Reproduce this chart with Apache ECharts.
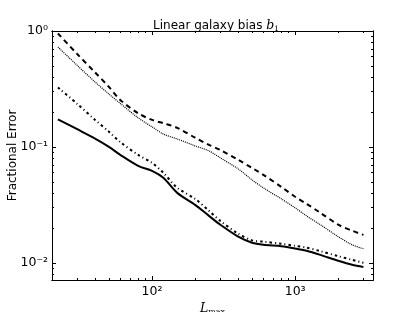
<!DOCTYPE html>
<html><head><meta charset="utf-8">
<script src="https://cdn.jsdelivr.net/npm/echarts@6/dist/echarts.min.js"></script>
<style>html,body{margin:0;padding:0;background:#fff}#c{width:415px;height:312px}</style>
</head><body><div id="c"></div>
<script>
// L_max sample positions
const lmax = [22,30,40,50,60,80,100,120,150,200,250,300,400,500,600,800,1000,1200,1500,2000,2500,3000];
// fractional errors per curve
const dashedErr  = [0.952,0.633,0.439,0.329,0.254,0.195,0.171,0.160,0.146,0.120,0.104,0.0942,0.0773,0.0659,0.0574,0.0452,0.0371,0.0323,0.0270,0.0213,0.0189,0.0174];
const dottedErr  = [0.728,0.505,0.363,0.286,0.237,0.178,0.149,0.129,0.117,0.102,0.0924,0.0804,0.0646,0.0519,0.0443,0.0356,0.0298,0.0254,0.0213,0.0168,0.0143,0.0132];
const dashDotErr = [0.326,0.235,0.171,0.135,0.110,0.0853,0.0728,0.0597,0.0443,0.0356,0.0281,0.0230,0.0178,0.0156,0.0152,0.0146,0.0140,0.0135,0.0126,0.0114,0.0106,0.0100];
const solidErr   = [0.173,0.142,0.118,0.100,0.0853,0.0686,0.0621,0.0541,0.0401,0.0316,0.0254,0.0213,0.0168,0.0149,0.0143,0.0139,0.0133,0.0127,0.0117,0.0104,0.0096,0.0092];
// ticks
const xMajor = [100, 1000];
const xMajorLabels = ['10²', '10³'];
const xMinor = [30,40,50,60,70,80,90,200,300,400,500,600,700,800,900,2000,3000];
const yMajor = [0.01, 0.1, 1];
const yMajorLabels = ['10⁻²', '10⁻¹', '10⁰'];
const yMinor = [0.008,0.009,0.02,0.03,0.04,0.05,0.06,0.07,0.08,0.09,0.2,0.3,0.4,0.5,0.6,0.7,0.8,0.9];

const FONT = 'DejaVu Sans';
const chart = echarts.init(document.getElementById('c'), null, {renderer:'canvas'});
const pairs = arr => lmax.map((x,i)=>[x, arr[i]]);
function mkAxis(kind, pos, ticks, len, labels, labelVals, extra) {
  const ax = {
    type: 'log', logBase: 10, position: pos,
    min: kind === 'x' ? 20 : 0.0071, max: kind === 'x' ? 3500 : 1,
    axisLine: {show: true, lineStyle: {color: '#000', width: 1}},
    axisTick: {show: true, inside: true, length: len, customValues: ticks, lineStyle: {color: '#000', width: 1}},
    axisLabel: labels ? {
      show: true, customValues: labelVals, fontFamily: FONT, fontSize: 12.5, color: '#000',
      margin: kind === 'x' ? 5 : 4,
      formatter: v => { const i = labelVals.findIndex(t => Math.abs(Math.log10(t) - Math.log10(v)) < 1e-6); return i >= 0 ? labels[i] : ''; }
    } : {show: false},
    splitLine: {show: false}, minorTick: {show: false}
  };
  return Object.assign(ax, extra || {});
}
const option = {
  animation: false,
  backgroundColor: '#fff',
  title: {
    text: 'Linear galaxy bias {m|b}{s|1}',
    left: 211, top: 14, textAlign: 'center',
    textStyle: {
      fontFamily: FONT, fontSize: 12, fontWeight: 'normal', color: '#000',
      rich: {
        m: {fontFamily: 'DejaVu Serif', fontStyle: 'italic', fontSize: 12.5, color: '#000'},
        s: {fontFamily: 'DejaVu Serif', fontSize: 7.5, color: '#000', padding: [6, 0, 0, 0]}
      }
    }
  },
  grid: {left: 52, right: 42, top: 31, bottom: 32, containLabel: false, outerBoundsMode: 'none'},
  xAxis: [
    mkAxis('x', 'bottom', xMajor, 4, xMajorLabels, xMajor, {
      name: '{m|L}{s|max}', nameLocation: 'middle', nameGap: 22, nameMoveOverlap: false,
      nameTextStyle: {color: '#000', rich: {
        m: {fontFamily: 'DejaVu Serif', fontStyle: 'italic', fontSize: 12.5, color: '#000'},
        s: {fontFamily: 'DejaVu Serif', fontSize: 8, color: '#000', padding: [6, 0, 0, 0]}
      }}
    }),
    mkAxis('x', 'top', xMajor, 4, null, null),
    mkAxis('x', 'bottom', xMinor, 2, null, null),
    mkAxis('x', 'top', xMinor, 2, null, null)
  ],
  yAxis: [
    mkAxis('y', 'left', yMajor, 4, yMajorLabels, yMajor, {
      name: 'Fractional Error', nameLocation: 'middle', nameGap: 33, nameMoveOverlap: false,
      nameTextStyle: {fontFamily: FONT, fontSize: 12, color: '#000'}
    }),
    mkAxis('y', 'right', yMajor, 4, null, null),
    mkAxis('y', 'left', yMinor, 2, null, null),
    mkAxis('y', 'right', yMinor, 2, null, null)
  ],
  series: [
    {name: 'dashed', type: 'line', data: pairs(dashedErr), showSymbol: false, smooth: 0.3,
     lineStyle: {color: '#000', width: 2, type: [5, 4]}},
    {name: 'dotted', type: 'line', data: pairs(dottedErr), showSymbol: false, smooth: 0.3,
     lineStyle: {color: '#000', width: 1.2, type: [1, 1]}},
    {name: 'dashdot', type: 'line', data: pairs(dashDotErr), showSymbol: false, smooth: 0.3,
     lineStyle: {color: '#000', width: 2, type: [2.5, 3, 1, 3]}},
    {name: 'solid', type: 'line', data: pairs(solidErr), showSymbol: false, smooth: 0.3,
     lineStyle: {color: '#000', width: 2}}
  ]
};
chart.setOption(option);
</script>
</body></html>
